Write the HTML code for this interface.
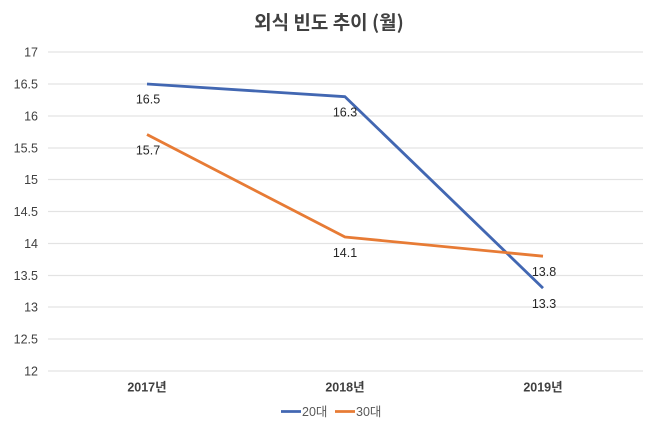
<!DOCTYPE html>
<html><head><meta charset="utf-8">
<style>
html,body{margin:0;padding:0;background:#fff;}
svg{display:block;}
text{font-family:"Liberation Sans","Noto Sans CJK KR",sans-serif;}
</style></head>
<body>
<svg width="658" height="427" viewBox="0 0 658 427" xmlns="http://www.w3.org/2000/svg">
<rect width="658" height="427" fill="#fff"/>
<text x="329" y="29" text-anchor="middle" font-size="19" font-weight="bold" fill="#404040" style="font-family:'Noto Sans CJK KR','Liberation Sans',sans-serif">외식 빈도 추이 (월)</text>
<g stroke="#e3e3e3" stroke-width="1.3">
<line x1="48" y1="52" x2="643" y2="52"/>
<line x1="48" y1="84" x2="643" y2="84"/>
<line x1="48" y1="116" x2="643" y2="116"/>
<line x1="48" y1="148" x2="643" y2="148"/>
<line x1="48" y1="179.5" x2="643" y2="179.5"/>
<line x1="48" y1="211.5" x2="643" y2="211.5"/>
<line x1="48" y1="243.5" x2="643" y2="243.5"/>
<line x1="48" y1="275.5" x2="643" y2="275.5"/>
<line x1="48" y1="307" x2="643" y2="307"/>
<line x1="48" y1="339" x2="643" y2="339"/>
<line x1="48" y1="371" x2="643" y2="371"/>
</g>
<g font-size="12.5" fill="#404040" text-anchor="end">
<text x="38" y="56.5">17</text>
<text x="38" y="88.5">16.5</text>
<text x="38" y="120.5">16</text>
<text x="38" y="152.5">15.5</text>
<text x="38" y="184">15</text>
<text x="38" y="216">14.5</text>
<text x="38" y="248">14</text>
<text x="38" y="280">13.5</text>
<text x="38" y="311.5">13</text>
<text x="38" y="343.5">12.5</text>
<text x="38" y="375.5">12</text>
</g>
<polyline points="147,84 345,96.7 543,288.1" fill="none" stroke="#4267B2" stroke-width="2.8" stroke-linejoin="round"/>
<polyline points="147,134.5 345,237 543,256.2" fill="none" stroke="#E77B35" stroke-width="2.8" stroke-linejoin="round"/>
<g font-size="12.5" fill="#262626" text-anchor="middle">
<text x="148" y="103.5">16.5</text>
<text x="345" y="116.5">16.3</text>
<text x="148" y="154.5">15.7</text>
<text x="345" y="257">14.1</text>
<text x="544" y="276">13.8</text>
<text x="544" y="308">13.3</text>
</g>
<g font-size="12.5" fill="#404040" text-anchor="middle" font-weight="bold">
<text x="147" y="391.5">2017<tspan style="font-family:'Noto Sans CJK KR',sans-serif">년</tspan></text>
<text x="345" y="391.5">2018<tspan style="font-family:'Noto Sans CJK KR',sans-serif">년</tspan></text>
<text x="543" y="391.5">2019<tspan style="font-family:'Noto Sans CJK KR',sans-serif">년</tspan></text>
</g>
<line x1="281" y1="411.5" x2="301" y2="411.5" stroke="#4267B2" stroke-width="2.8"/>
<text x="302" y="416" font-size="12.5" fill="#595959">20<tspan style="font-family:'Noto Sans CJK KR',sans-serif">대</tspan></text>
<line x1="335" y1="411.5" x2="355" y2="411.5" stroke="#E77B35" stroke-width="2.8"/>
<text x="356" y="416" font-size="12.5" fill="#595959">30<tspan style="font-family:'Noto Sans CJK KR',sans-serif">대</tspan></text>
</svg>
</body></html>
